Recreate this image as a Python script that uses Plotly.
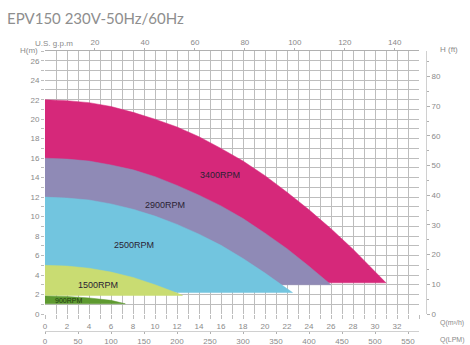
import plotly.graph_objects as go

# ---- data (flow in m3/h, head in m) ----
q_3400 = [0, 2, 4, 6, 8, 10, 12, 14, 16, 18, 20, 22, 24, 26, 28, 30, 31]
h_3400 = [22, 21.9, 21.7, 21.3, 20.7, 20.0, 19.2, 18.2, 17.0, 15.7, 14.2, 12.5, 10.7, 8.75, 6.65, 4.4, 3.2]

q_2900 = [0, 2, 4, 6, 8, 10, 12, 14, 16, 18, 20, 22, 24, 26]
h_2900 = [16, 15.9, 15.7, 15.3, 14.8, 14.1, 13.2, 12.2, 11.1, 9.8, 8.3, 6.7, 4.9, 3.0]

q_2500 = [0, 2, 4, 6, 8, 10, 12, 14, 16, 18, 20, 22, 22.5]
h_2500 = [12, 11.9, 11.7, 11.3, 10.75, 10.05, 9.2, 8.2, 7.05, 5.7, 4.2, 2.6, 2.2]

q_1500 = [0, 2, 4, 6, 8, 10, 12, 12.5]
h_1500 = [5, 4.92, 4.7, 4.3, 3.75, 3.0, 2.15, 1.9]

q_900 = [0, 2, 4, 6, 7.3]
h_900 = [1.85, 1.8, 1.65, 1.4, 1.05]

series_names = ["3400RPM", "2900RPM", "2500RPM", "1500RPM", "900RPM"]
label_q = [15.9, 10.9, 8.1, 4.8, 2.1]
label_h = [14.3, 11.2, 7.1, 3.0, 1.4]

q_ticks = list(range(0, 33, 2))
h_ticks = list(range(0, 27, 2))
gpm_ticks = [20, 40, 60, 80, 100, 120, 140]
lpm_ticks = list(range(0, 551, 50))
ft_ticks = list(range(0, 81, 10))

title_text = "EPV150 230V-50Hz/60Hz"

# ---- styling ----
colors = ["#d6287a", "#8f8ab6", "#72c5df", "#c9dc72", "#5e9a30"]
Q_MAX, H_MAX = 34, 27
GPM_PER_M3H = 4.40287
LPM_PER_M3H = 16.6667
FT_PER_M = 3.28084

W, H = 470, 345
ML, MR, MT, MB = 45, 44, 51, 14
PW, PH = W - ML - MR, H - MT - MB
PLOT_RIGHT = 419
PLOT_BOTTOM = 314


def px(x):
    return (x - ML) / PW


def py(y):
    return (H - MB - y) / PH


fig = go.Figure()

curves = [(q_3400, h_3400), (q_2900, h_2900), (q_2500, h_2500), (q_1500, h_1500), (q_900, h_900)]
for (qs, hs), name, col in zip(curves, series_names, colors):
    base = hs[-1]
    fig.add_trace(go.Scatter(
        x=list(qs) + [qs[0]],
        y=list(hs) + [base],
        mode="lines", fill="toself", fillcolor=col,
        line=dict(color=col, width=0.5),
        name=name, hoverinfo="skip", showlegend=False,
    ))

# invisible traces to activate secondary axes
fig.add_trace(go.Scatter(x=[0], y=[0], xaxis="x2", yaxis="y", mode="markers",
                         marker=dict(opacity=0), showlegend=False, hoverinfo="skip"))
fig.add_trace(go.Scatter(x=[0], y=[0], xaxis="x3", yaxis="y", mode="markers",
                         marker=dict(opacity=0), showlegend=False, hoverinfo="skip"))
fig.add_trace(go.Scatter(x=[0], y=[0], xaxis="x", yaxis="y2", mode="markers",
                         marker=dict(opacity=0), showlegend=False, hoverinfo="skip"))

tick_font = dict(family="Liberation Sans, Arial", size=8, color="#8a8a8a")
grid_col = "#bdbdbd"
axis_col = "#b0b0b0"

fig.update_layout(
    width=W, height=H,
    margin=dict(l=ML, r=MR, t=MT, b=MB, pad=0, autoexpand=False),
    paper_bgcolor="white", plot_bgcolor="white",
    xaxis=dict(
        domain=[0, (PLOT_RIGHT - ML) / PW], range=[0, Q_MAX], anchor="y",
        tickvals=q_ticks, tickfont=tick_font, automargin=False,
        showgrid=True, gridcolor=grid_col, gridwidth=1,
        minor=dict(dtick=1, showgrid=True, gridcolor=grid_col, gridwidth=1,
                   ticks="outside", ticklen=4, tickcolor=grid_col),
        ticks="outside", ticklen=4, tickcolor=grid_col,
        showline=False, zeroline=False, fixedrange=True,
    ),
    xaxis2=dict(
        overlaying="x", side="top", anchor="y", automargin=False,
        range=[0, Q_MAX * GPM_PER_M3H], tickvals=gpm_ticks, tickfont=tick_font,
        showgrid=False, zeroline=False, showline=True, linecolor=axis_col,
        ticks="outside", ticklen=2, tickcolor=axis_col,
    ),
    xaxis3=dict(
        overlaying="x", side="bottom", anchor="free", position=0, automargin=False,
        range=[0, Q_MAX * LPM_PER_M3H], tickvals=lpm_ticks, tickfont=tick_font,
        showgrid=False, zeroline=False, showline=True, linecolor="#d0d0d0",
        ticks="outside", ticklen=2, tickcolor=axis_col,
    ),
    yaxis=dict(
        domain=[py(PLOT_BOTTOM), 1], range=[0, H_MAX], anchor="x", automargin=False,
        tickvals=h_ticks, tickfont=tick_font,
        showgrid=True, gridcolor=grid_col, gridwidth=1,
        minor=dict(dtick=1, showgrid=True, gridcolor=grid_col, gridwidth=1,
                   ticks="outside", ticklen=3, tickcolor=grid_col),
        ticks="outside", ticklen=3, tickcolor=grid_col,
        showline=False, zeroline=False, fixedrange=True,
    ),
    yaxis2=dict(
        overlaying="y", side="right", anchor="free", position=1.0, automargin=False,
        range=[0, H_MAX * FT_PER_M], tickvals=ft_ticks, tickfont=tick_font,
        showgrid=False, zeroline=False, showline=True, linecolor="#d0d0d0",
        ticks="outside", ticklen=3, tickcolor=axis_col,
        minor=dict(dtick=5, ticks="outside", ticklen=2, tickcolor=axis_col),
    ),
)

# curve labels
for name, lq, lh in zip(series_names, label_q, label_h):
    small = name == "900RPM"
    fig.add_annotation(
        x=lq, y=lh, xref="x", yref="y", text=name, showarrow=False,
        font=dict(family="Liberation Sans, Arial", size=7 if small else 9,
                  color="#1f3a10" if small else "#2a2233"),
    )

# axis captions and title
captions = [
    (title_text, 5, 18, "left", 15, "#8e8e8e", "Lato"),
    ("U.S. g.p.m", 33, 43, "left", 8, "#8a8a8a", "Liberation Sans, Arial"),
    ("H(m)", 18, 50, "left", 8, "#8a8a8a", "Liberation Sans, Arial"),
    ("H (ft)", 438, 49, "left", 8, "#8a8a8a", "Liberation Sans, Arial"),
    ("Q(m³/h)", 438, 323, "left", 7, "#8a8a8a", "Liberation Sans, Arial"),
    ("Q(LPM)", 438, 340, "left", 7, "#8a8a8a", "Liberation Sans, Arial"),
]
for text, x, y, anchor, size, col, fam in captions:
    fig.add_annotation(
        x=px(x), y=py(y), xref="paper", yref="paper", text=text, showarrow=False,
        xanchor=anchor, yanchor="middle",
        font=dict(family=fam, size=size, color=col),
    )

fig.write_html(
    "out.html",
    config={"displayModeBar": False},
    post_script="document.body.style.margin='0';document.body.style.overflow='hidden';",
)
